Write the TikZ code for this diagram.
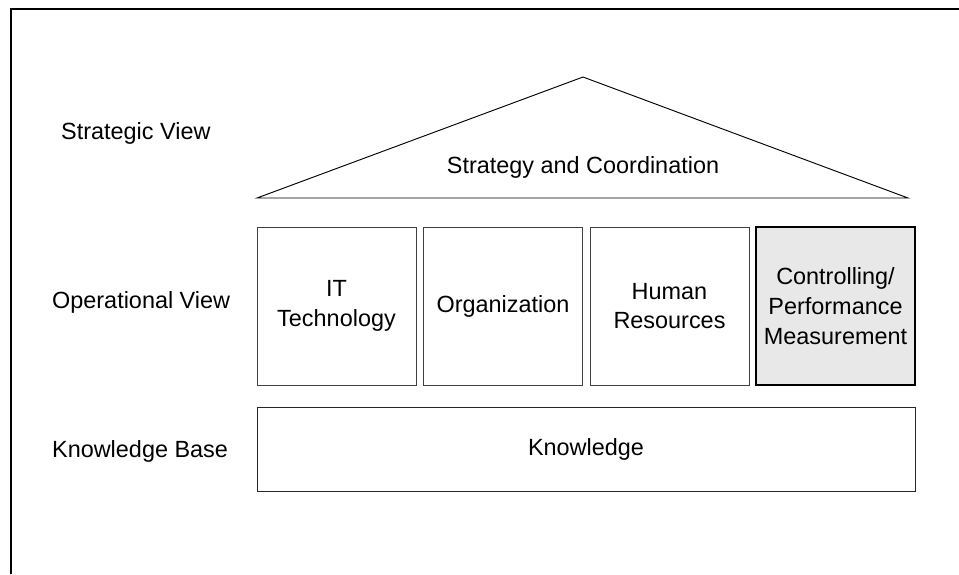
\documentclass[tikz,border=0pt]{standalone}
\usepackage{fontspec}
\setmainfont{Liberation Sans}
\usepackage{tikz}
\definecolor{ctrlgray}{HTML}{E8E8E8}

\begin{document}
\begin{tikzpicture}[x=0.03cm, y=-0.03cm, font=\fontsize{20}{25.5}\selectfont,
    pillar/.style = {draw=black!75, line width=0.8pt, minimum width=4.77cm, minimum height=4.74cm, align=center, inner sep=0pt},
    focus/.style = {pillar, draw=black, line width=1.8pt, fill=ctrlgray},
    base/.style = {draw=black!85, line width=0.8pt, minimum width=19.74cm, minimum height=2.5cm},
    level/.style = {anchor=west}]
    \useasboundingbox (0,0) rectangle (959,574);

    % Nodes

    \node[level] (sv) at (57, 133) {Strategic View};
    \node[level] (ov) at (48, 302) {Operational View};
    \node[level] (kb) at (48, 451) {Knowledge Base};

    \coordinate (apex) at (583, 77);
    \coordinate (roofL) at (257, 198);
    \coordinate (roofR) at (908, 198);
    \node (roof) at (583, 167) {Strategy and Coordination};

    \node[pillar] (it) at (336.5, 306) {IT\\Technology};
    \node[pillar] (org) at (503, 306) {Organization};
    \node[pillar] (hr) at (669.5, 306) {Human\\Resources};
    \node[focus] (ctrl) at (835.5, 306) {Controlling/\\Performance\\Measurement};

    \node[base] (know) at (586, 449.5) {Knowledge};

    \coordinate (fbl) at (11, 574);
    \coordinate (ftl) at (11, 9);
    \coordinate (ftr) at (959, 9);

    % Edges

    \draw[line width=0.8pt, line join=miter] (roofL) -- (apex) -- (roofR) -- cycle;
    \draw[line width=1.8pt] (fbl) -- (ftl) -- (ftr);

\end{tikzpicture}
\end{document}
